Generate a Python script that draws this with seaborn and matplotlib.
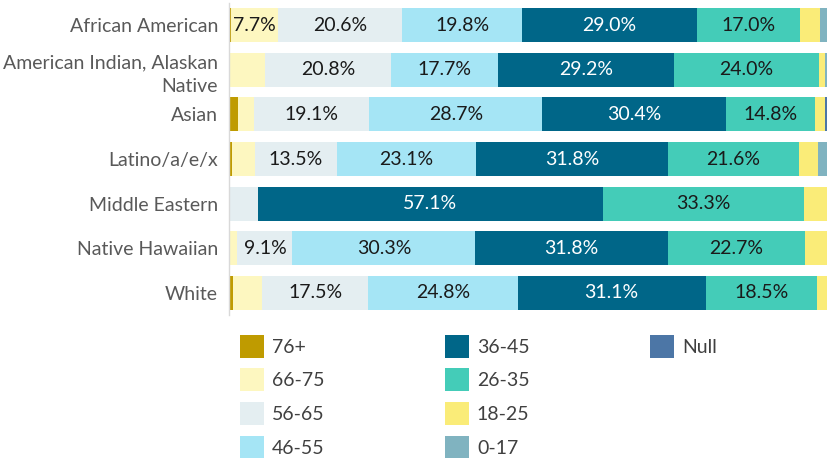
import matplotlib
matplotlib.use("Agg")
import matplotlib.pyplot as plt
import seaborn as sns
import numpy as np
import pandas as pd
from matplotlib.patches import Patch

categories = ["African American", "American Indian, Alaskan\nNative", "Asian",
              "Latino/a/e/x", "Middle Eastern", "Native Hawaiian", "White"]
age_groups = ["76+", "66-75", "56-65", "46-55", "36-45", "26-35", "18-25", "0-17", "Null"]

# percent of each category per age group
v_76 = [0.4, 0.0, 1.5, 0.5, 0.0, 0.0, 0.7]
v_66 = [7.7, 6.0, 2.6, 3.8, 0.0, 1.4, 4.8]
v_56 = [20.6, 20.8, 19.1, 13.5, 4.8, 9.1, 17.5]
v_46 = [19.8, 17.7, 28.7, 23.1, 0.0, 30.3, 24.8]
v_36 = [29.0, 29.2, 30.4, 31.8, 57.1, 31.8, 31.1]
v_26 = [17.0, 24.0, 14.8, 21.6, 33.3, 22.7, 18.5]
v_18 = [3.4, 1.0, 1.6, 3.2, 4.8, 4.7, 2.6]
v_0 = [2.1, 1.3, 0.0, 2.5, 0.0, 0.0, 0.0]
v_null = [0.0, 0.0, 1.3, 0.0, 0.0, 0.0, 0.0]

colors = ["#BF9B00", "#FDF7C0", "#E4EEF1", "#A5E5F5", "#006688",
          "#44CCB8", "#FAEC78", "#80B3C0", "#4C76A6"]

df = pd.DataFrame(dict(zip(age_groups, [v_76, v_66, v_56, v_46, v_36, v_26, v_18, v_0, v_null])),
                  index=categories)
cum = df.cumsum(axis=1)

sns.set_theme(style="white")
plt.rcParams["font.family"] = ["Lato", "DejaVu Sans"]

fig = plt.figure(figsize=(8.27, 4.58), dpi=100)
ax = fig.add_axes([229 / 827, 1 - 315 / 458, 604 / 827, 312 / 458])

# stacked bars: draw cumulative totals from the largest down
for grp, col in reversed(list(zip(age_groups, colors))):
    sns.barplot(x=cum[grp].values, y=categories, color=col, orient="h",
                width=0.76, ax=ax, saturation=1, linewidth=0)

for i, cat in enumerate(categories):
    for grp in age_groups:
        v = df.loc[cat, grp]
        if v >= 7:
            x = cum.loc[cat, grp] - v / 2
            tc = "white" if grp == "36-45" else "#1a1a1a"
            ax.text(x, i, f"{v:.1f}%", ha="center", va="center",
                    fontsize=14, color=tc)

ax.set_xlim(0, 100)
ax.set_ylim(6.5, -0.5)
ax.set_xticks([])
ax.set_xlabel("")
ax.set_ylabel("")
for s in ["top", "right", "bottom"]:
    ax.spines[s].set_visible(False)
ax.spines["left"].set_color("#d9d9d9")
ax.spines["left"].set_linewidth(1)
ax.tick_params(axis="y", length=0, pad=8, labelsize=14, labelcolor="#595959")
for lab in ax.get_yticklabels():
    lab.set_ha("right")
    lab.set_multialignment("right")
    lab.set_linespacing(1.5)

handles = [Patch(facecolor=c, edgecolor="none") for c in colors]
labels = list(age_groups)
for _ in range(3):
    handles.append(Patch(facecolor="none", edgecolor="none"))
    labels.append("")
fig.legend(handles, labels, ncol=3, loc="upper left",
           bbox_to_anchor=(224 / 827, 1 - 319 / 458), frameon=False,
           fontsize=14, handlelength=1.25, handleheight=1.45,
           handletextpad=0.4, labelspacing=0.55, columnspacing=6.2,
           labelcolor="#404040", borderpad=0.3)

fig.savefig("out.png", dpi=100)
